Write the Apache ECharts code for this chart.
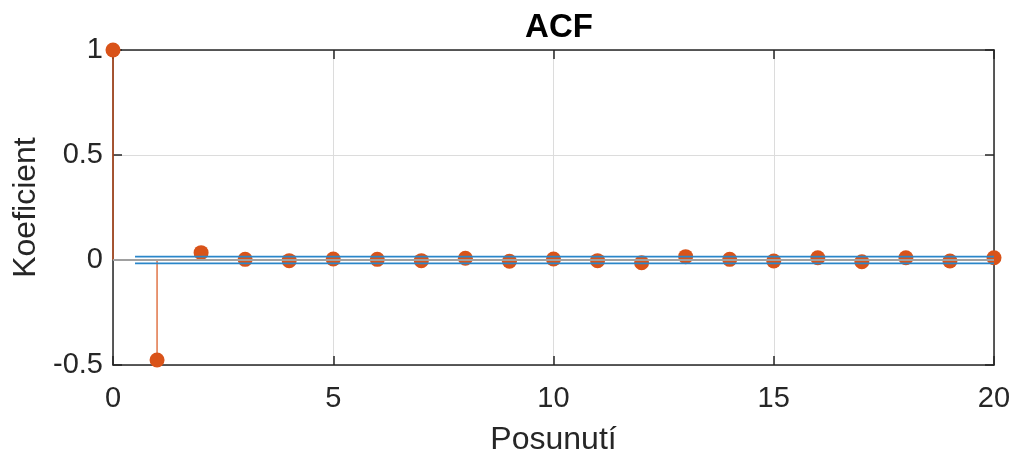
<!DOCTYPE html>
<html>
<head>
<meta charset="utf-8">
<script src="https://cdn.jsdelivr.net/npm/echarts@6/dist/echarts.min.js"></script>
<style>html,body{margin:0;padding:0;background:#fff}#c{width:1012px;height:459px}</style>
</head>
<body>
<div id="c"></div>
<script>
const lags = [0,1,2,3,4,5,6,7,8,9,10,11,12,13,14,15,16,17,18,19,20];
const acf = [1, -0.476, 0.035, 0.003, -0.003, 0.005, 0.003, -0.003, 0.008, -0.006, 0.005, -0.003, -0.013, 0.016, 0.003, -0.005, 0.011, -0.008, 0.011, -0.005, 0.011];
const boundValue = 0.016;
const boundRange = [0.5, 20];
const xTicks = [0, 5, 10, 15, 20];
const yTicks = [-0.5, 0, 0.5, 1];

const FONT = '"Liberation Sans", Arial, Helvetica, sans-serif';
const AX = '#262626';
const points = lags.map((l, i) => [l, acf[i]]);

const chart = echarts.init(document.getElementById('c'), null, {renderer: 'canvas'});
const axisCommon = {
  axisLine: {show: true, onZero: false, lineStyle: {color: AX, width: 1.5}},
  axisTick: {show: true, inside: true, length: 9, lineStyle: {color: AX, width: 1.5}},
};
chart.setOption({
  animation: false,
  backgroundColor: '#fff',
  title: {
    text: 'ACF', left: 554, textAlign: 'center', top: 6,
    textStyle: {fontFamily: FONT, fontSize: 33, fontWeight: 'bold', color: '#000'}
  },
  grid: {left: 113, right: 18, top: 50, bottom: 94, containLabel: false, outerBoundsMode: 'none'},
  xAxis: [{
    type: 'value', min: xTicks[0], max: xTicks[xTicks.length-1], interval: 5, position: 'bottom',
    name: 'Posunutí', nameLocation: 'middle', nameGap: 59,
    nameTextStyle: {fontFamily: FONT, fontSize: 32, color: AX},
    ...axisCommon,
    axisLabel: {fontFamily: FONT, fontSize: 29, color: AX, margin: 19},
    splitLine: {show: true, lineStyle: {color: '#dcdcdc', width: 1}}
  }, {
    type: 'value', min: xTicks[0], max: xTicks[xTicks.length-1], interval: 5, position: 'top',
    ...axisCommon, axisLabel: {show: false}, splitLine: {show: false}
  }],
  yAxis: [{
    type: 'value', min: yTicks[0], max: yTicks[yTicks.length-1], interval: 0.5, position: 'left',
    name: 'Koeficient', nameLocation: 'middle', nameGap: 68,
    nameTextStyle: {fontFamily: FONT, fontSize: 32, color: AX},
    ...axisCommon,
    axisLabel: {fontFamily: FONT, fontSize: 29, color: AX, margin: 10, padding: [6, 0, 0, 0]},
    splitLine: {show: true, lineStyle: {color: '#dcdcdc', width: 1}}
  }, {
    type: 'value', min: yTicks[0], max: yTicks[yTicks.length-1], interval: 0.5, position: 'right',
    ...axisCommon, axisLabel: {show: false}, splitLine: {show: false}
  }],
  series: [
    {
      type: 'scatter', data: points, symbol: 'circle', symbolSize: 15, clip: false, z: 2,
      itemStyle: {color: '#D95319', opacity: 1}
    },
    {
      type: 'custom', data: points, z: 3, clip: false,
      renderItem: function (params, api) {
        const a = api.coord([api.value(0), 0]);
        const b = api.coord([api.value(0), api.value(1)]);
        return {type: 'line', shape: {x1: a[0], y1: a[1], x2: b[0], y2: b[1]},
          style: {stroke: '#D95319', lineWidth: 1.2}};
      }
    },
    {
      type: 'line', data: [[lags[0], 0], [lags[lags.length-1], 0]], symbol: 'none', z: 4,
      lineStyle: {color: '#a0a0a0', width: 2}
    },
    {
      type: 'line', data: [[boundRange[0], boundValue], [boundRange[1], boundValue]], symbol: 'none', z: 5,
      lineStyle: {color: '#2a86c9', width: 1.8}
    },
    {
      type: 'line', data: [[boundRange[0], -boundValue], [boundRange[1], -boundValue]], symbol: 'none', z: 5,
      lineStyle: {color: '#2a86c9', width: 1.8}
    }
  ]
});
</script>
</body>
</html>
